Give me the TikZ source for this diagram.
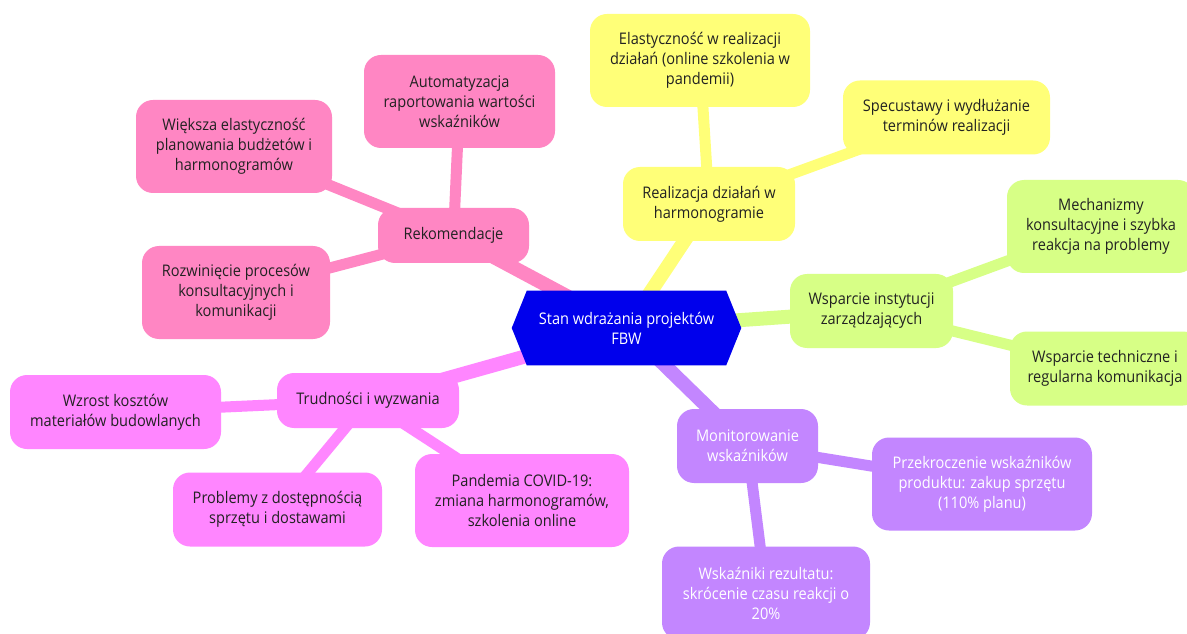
\documentclass[tikz,border=0pt]{standalone}
\usepackage{fontspec}
\setmainfont{Open Sans}[FakeStretch=0.91]

% section colours of the mind map
\definecolor{rootblue}{HTML}{0000EC}
\definecolor{secyellow}{HTML}{FFFF78}
\definecolor{secgreen}{HTML}{D7FF86}
\definecolor{secpurple}{HTML}{C386FF}
\definecolor{secmagenta}{HTML}{FF86FF}
\definecolor{secpink}{HTML}{FF86C3}
\definecolor{textdark}{HTML}{222222}

\pgfdeclarelayer{paper}
\pgfdeclarelayer{edges}
\pgfdeclarelayer{hexfill}
\pgfsetlayers{paper,edges,hexfill,main}

\tikzset{
  mmbox/.style={rectangle, rounded corners=12.75pt, align=center, inner sep=0pt,
    font=\fontsize{12}{15}\selectfont, text=textdark},
  oneline/.style={minimum height=41.25pt},
  twoline/.style={minimum height=55.5pt},
  threeline/.style={minimum height=69.75pt},
  roottext/.style={rectangle, align=center, inner sep=0pt, text=white,
    font=\fontsize{12}{15}\selectfont, minimum width=149.25pt, minimum height=55.5pt},
  edgeone/.style={line width=10.5pt},
  edgetwo/.style={line width=8.25pt},
}

\begin{document}
\begin{tikzpicture}[x=0.75pt, y=-0.75pt]
\begin{pgfonlayer}{paper}
\fill[white] (0,0) rectangle (1187,634);
\end{pgfonlayer}
\useasboundingbox (0,0) rectangle (1187,634);

% central topic
\node[roottext] (root) at (626.5,328) {Stan wdrażania projektów\\FBW};

% Realizacja branch
\node[mmbox, fill=secyellow, twoline, minimum width=129pt] (real) at (709,204) {Realizacja działań w\\harmonogramie};
\node[mmbox, fill=secyellow, threeline, minimum width=165pt] (elast) at (700,60.5) {Elastyczność w realizacji\\działań (online szkolenia w\\pandemii)};
\node[mmbox, fill=secyellow, twoline, minimum width=155.25pt] (specu) at (946.5,117.5) {Specustawy i wydłużanie\\terminów realizacji};

% Wsparcie branch
\node[mmbox, fill=secgreen, twoline, minimum width=122.25pt] (wspar) at (871.5,311) {Wsparcie instytucji\\zarządzających};
\node[mmbox, fill=secgreen, threeline, minimum width=141pt] (mech) at (1101,226.5) {Mechanizmy\\konsultacyjne i szybka\\reakcja na problemy};
\node[mmbox, fill=secgreen, twoline, minimum width=142.5pt] (tech) at (1105,368.5) {Wsparcie techniczne i\\regularna komunikacja};

% Monitorowanie branch
\node[mmbox, fill=secpurple, twoline, minimum width=105.75pt, text=white] (monit) at (747.5,446) {Monitorowanie\\wskaźników};
\node[mmbox, fill=secpurple, threeline, minimum width=165pt, text=white] (przek) at (982,484) {Przekroczenie wskaźników\\produktu: zakup sprzętu\\(110\% planu)};
\node[mmbox, fill=secpurple, threeline, minimum width=156pt, text=white] (wskaz) at (766,593) {Wskaźniki rezultatu:\\skrócenie czasu reakcji o\\20\%};

% Trudności branch
\node[mmbox, fill=secmagenta, oneline, minimum width=136.5pt] (trud) at (368,400.5) {Trudności i wyzwania};
\node[mmbox, fill=secmagenta, twoline, minimum width=158.25pt] (wzrost) at (115.5,412) {Wzrost kosztów\\materiałów budowlanych};
\node[mmbox, fill=secmagenta, twoline, minimum width=156.75pt] (probl) at (277.5,509.5) {Problemy z dostępnością\\sprzętu i dostawami};
\node[mmbox, fill=secmagenta, threeline, minimum width=160.5pt] (pand) at (522,500.5) {Pandemia COVID-19:\\zmiana harmonogramów,\\szkolenia online};

% Rekomendacje branch
\node[mmbox, fill=secpink, oneline, minimum width=113.25pt] (rekom) at (453.5,235.5) {Rekomendacje};
\node[mmbox, fill=secpink, threeline, minimum width=143.25pt] (autom) at (459.5,101.5) {Automatyzacja\\raportowania wartości\\wskaźników};
\node[mmbox, fill=secpink, threeline, minimum width=147pt] (wieksza) at (234,146.5) {Większa elastyczność\\planowania budżetów i\\harmonogramów};
\node[mmbox, fill=secpink, threeline, minimum width=141pt] (rozw) at (236,292.5) {Rozwinięcie procesów\\konsultacyjnych i\\komunikacji};

% hexagon behind the central topic
\begin{pgfonlayer}{hexfill}
\fill[rootblue] ([xshift=-11.25pt]root.west) -- (root.north west) -- (root.north east)
  -- ([xshift=11.25pt]root.east) -- (root.south east) -- (root.south west) -- cycle;
\end{pgfonlayer}

% connectors
\begin{pgfonlayer}{edges}
\draw[edgeone, secyellow] (root.center) -- (real.center);
\draw[edgetwo, secyellow] (real.center) -- (elast.center);
\draw[edgetwo, secyellow] (real.center) -- (specu.center);

\draw[edgeone, secgreen] (root.center) -- (wspar.center);
\draw[edgetwo, secgreen] (wspar.center) -- (mech.center);
\draw[edgetwo, secgreen] (wspar.center) -- (tech.center);

\draw[edgeone, secpurple] (root.center) -- (monit.center);
\draw[edgetwo, secpurple] (monit.center) -- (przek.center);
\draw[edgetwo, secpurple] (monit.center) -- (wskaz.center);

\draw[edgeone, secmagenta] (root.center) -- (trud.center);
\draw[edgetwo, secmagenta] (trud.center) -- (wzrost.center);
\draw[edgetwo, secmagenta] (trud.center) -- (probl.center);
\draw[edgetwo, secmagenta] (trud.center) -- (pand.center);

\draw[edgeone, secpink] (root.center) -- (rekom.center);
\draw[edgetwo, secpink] (rekom.center) -- (autom.center);
\draw[edgetwo, secpink] (rekom.center) -- (wieksza.center);
\draw[edgetwo, secpink] (rekom.center) -- (rozw.center);
\end{pgfonlayer}
\end{tikzpicture}
\end{document}
